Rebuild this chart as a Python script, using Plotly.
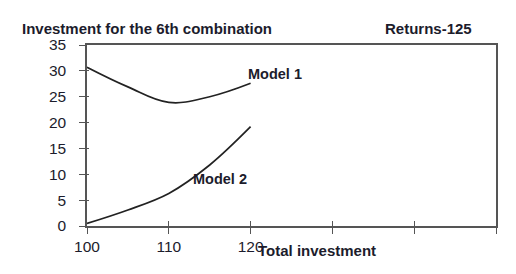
import plotly.graph_objects as go

x_vals = [100, 105, 110, 115, 120]
model1 = [30.7, 26.9, 23.9, 25.0, 27.6]
model2 = [0.5, 3.1, 6.3, 11.8, 19.2]
x_tick_vals = [100, 110, 120, 130, 140, 150]
x_tick_text = ["100", "110", "120", "", "", ""]
y_tick_vals = [0, 5, 10, 15, 20, 25, 30, 35]

FONT = "Liberation Sans, Arial, sans-serif"
TXT = "#1c1c2c"
AX = "#555555"

fig = go.Figure()
fig.add_trace(go.Scatter(x=x_vals, y=model1, mode="lines", line=dict(color="#222", width=1.7, shape="spline", smoothing=1.1), showlegend=False))
fig.add_trace(go.Scatter(x=x_vals, y=model2, mode="lines", line=dict(color="#222", width=1.7, shape="spline"), showlegend=False))
# invisible trace on overlay axes to draw inside ticks
fig.add_trace(go.Scatter(x=[100], y=[0], xaxis="x2", yaxis="y2", mode="markers", marker=dict(opacity=0), showlegend=False, hoverinfo="skip"))

fig.update_layout(
    width=516, height=274,
    margin=dict(l=79, r=28, t=37, b=56),
    paper_bgcolor="white", plot_bgcolor="white",
    font=dict(family=FONT, color=TXT),
    xaxis=dict(range=[100, 150], tickvals=x_tick_vals, ticktext=x_tick_text,
               ticks="outside", ticklen=6, tickcolor=AX, tickwidth=1.2,
               showline=True, linecolor=AX, linewidth=1.5, mirror=True,
               showgrid=False, zeroline=False, tickfont=dict(size=15.5, color=TXT)),
    yaxis=dict(range=[0, 35], tickvals=y_tick_vals,
               ticks="outside", ticklen=6, tickcolor=AX, tickwidth=1.2,
               showline=True, linecolor=AX, linewidth=1.5, mirror=True,
               showgrid=False, zeroline=False, tickfont=dict(size=15.5, color=TXT),
               ticklabelstandoff=10),
    xaxis2=dict(range=[100, 150], tickvals=x_tick_vals, showticklabels=False,
                ticks="inside", ticklen=5, tickcolor=AX, tickwidth=1.2,
                overlaying="x", showgrid=False, zeroline=False, showline=False),
    yaxis2=dict(range=[0, 35], tickvals=y_tick_vals, showticklabels=False,
                ticks="inside", ticklen=2, tickcolor=AX, tickwidth=1.2,
                overlaying="y", showgrid=False, zeroline=False, showline=False),
    annotations=[
        dict(text="<b>Investment for the 6th combination</b>", xref="paper", yref="paper",
             x=-0.164, y=1.0, xanchor="left", yanchor="bottom", yshift=6, showarrow=False,
             font=dict(size=15, color=TXT)),
        dict(text="<b>Returns-125</b>", xref="paper", yref="paper",
             x=0.723, y=1.0, xanchor="left", yanchor="bottom", yshift=6, showarrow=False,
             font=dict(size=15, color=TXT)),
        dict(text="<b>Total investment</b>", xref="paper", yref="paper",
             x=0.412, y=0, xanchor="left", yanchor="top", yshift=-14, showarrow=False,
             font=dict(size=15, color=TXT)),
        dict(text="<b>Model 1</b>", x=120, y=27.6, xref="x", yref="y",
             xanchor="left", yanchor="bottom", xshift=-5, yshift=-1, showarrow=False,
             font=dict(size=14.5, color=TXT)),
        dict(text="<b>Model 2</b>", x=112.7, y=9.0, xref="x", yref="y",
             xanchor="left", yanchor="middle", showarrow=False,
             font=dict(size=14.5, color=TXT)),
    ],
)

fig.write_html("out.html")
